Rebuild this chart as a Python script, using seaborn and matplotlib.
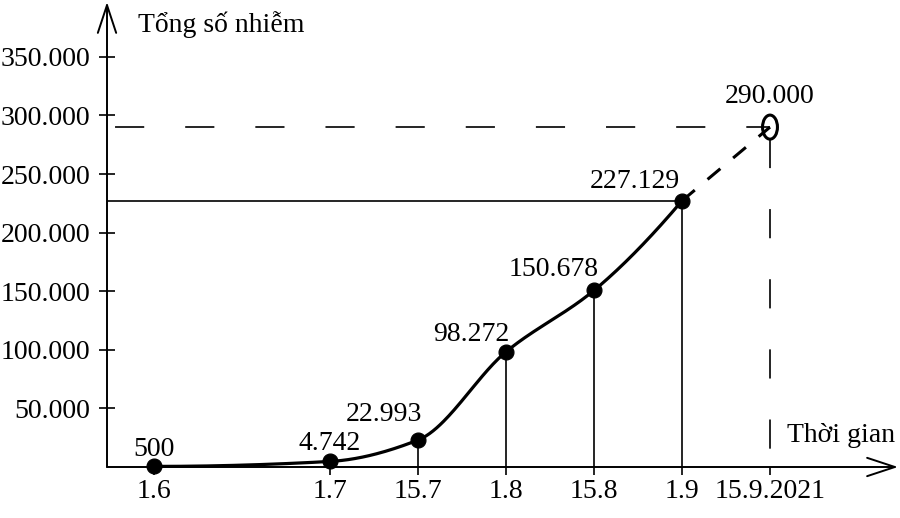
import numpy as np
import pandas as pd
import matplotlib
matplotlib.use('Agg')
import matplotlib.pyplot as plt
import seaborn as sns
from matplotlib.path import Path
from matplotlib.transforms import Affine2D

# data
dates = ['1.6', '1.7', '15.7', '1.8', '15.8', '1.9', '15.9.2021']
pos = [0, 2, 3, 4, 5, 6, 7]   # half-month steps since 1.6
cases = [500, 4742, 22993, 98272, 150678, 227129]
forecast = 290000
yticks = [50000, 100000, 150000, 200000, 250000, 300000, 350000]


def dotfmt(v):
    return '{:,}'.format(v).replace(',', '.')


def pchip(x, y, xs):
    # monotone cubic hermite, so the curve goes smoothly through the points
    x = np.asarray(x, float); y = np.asarray(y, float)
    h = np.diff(x); d = np.diff(y) / h
    m = np.zeros_like(y)
    for k in range(1, len(x) - 1):
        if d[k - 1] * d[k] > 0:
            w1 = 2 * h[k] + h[k - 1]; w2 = h[k] + 2 * h[k - 1]
            m[k] = (w1 + w2) / (w1 / d[k - 1] + w2 / d[k])
    m0 = ((2 * h[0] + h[1]) * d[0] - h[0] * d[1]) / (h[0] + h[1])
    m[0] = m0 if m0 * d[0] > 0 else 0
    mn = ((2 * h[-1] + h[-2]) * d[-1] - h[-1] * d[-2]) / (h[-1] + h[-2])
    m[-1] = mn if mn * d[-1] > 0 else 0
    idx = np.clip(np.searchsorted(x, xs) - 1, 0, len(x) - 2)
    t = (xs - x[idx]) / h[idx]
    h00 = 2 * t**3 - 3 * t**2 + 1; h10 = t**3 - 2 * t**2 + t
    h01 = -2 * t**3 + 3 * t**2; h11 = t**3 - t**2
    return h00 * y[idx] + h10 * h[idx] * m[idx] + h01 * y[idx + 1] + h11 * h[idx] * m[idx + 1]


sns.set_theme(style='white')
plt.rcParams['font.family'] = ['Liberation Serif', 'DejaVu Serif']
plt.rcParams['lines.scale_dashes'] = False
plt.rcParams['text.color'] = 'black'
FS = 20

fig = plt.figure(figsize=(9, 5.18), dpi=100)
ax = fig.add_axes([0, 0, 1, 1])
ax.set_facecolor('white')

# pixel layout -> data limits
px_x = 88.0          # px per half month
x0 = 154.0           # px of 1.6
y0 = 467.0           # px of zero
px_y = 58.6 / 50000  # px per case
ax.set_xlim(-x0 / px_x, (900 - x0) / px_x)
ax.set_ylim(-(518 - y0) / px_y, y0 / px_y)
xa = (107 - x0) / px_x       # where the y axis sits
xtip = (898 - x0) / px_x
ytip = (y0 - 2) / px_y

for s in ax.spines.values():
    s.set_visible(False)
ax.spines['left'].set_position(('data', xa))
ax.spines['bottom'].set_position(('data', 0))

arrow = dict(arrowstyle='->,head_length=1.0,head_width=0.33', mutation_scale=20,
             lw=1.4, color='black', shrinkA=0, shrinkB=0)
ax.annotate('', xy=(xtip, 0), xytext=(xa, 0), arrowprops=arrow)
ax.annotate('', xy=(xa, ytip), xytext=(xa, 0), arrowprops=arrow)

# guide lines
ax.vlines(pos[1:6], 0, cases[1:], color='black', lw=1.2)
ax.hlines(cases[-1], xa, pos[5], color='black', lw=1.2)
ax.plot([xa, pos[6]], [forecast, forecast], color='black', lw=1.2,
        ls=(44.7, (21, 29.5)))
ax.plot([pos[6], pos[6]], [forecast, 0], color='black', lw=1.2,
        ls=(41.9, (21, 29.5)))
ax.plot([pos[5], pos[6]], [cases[-1], forecast], color='black', lw=2.2,
        ls=(0, (12, 12)))

# smooth curve
xs = np.linspace(pos[0], pos[5], 300)
curve = pd.DataFrame({'t': xs, 'v': pchip(pos[:6], cases, xs)})
sns.lineplot(data=curve, x='t', y='v', ax=ax, color='black', lw=2.3)

pts = pd.DataFrame({'t': pos[:6], 'v': cases})
sns.scatterplot(data=pts, x='t', y='v', ax=ax, s=115, color='black',
                edgecolor='black', zorder=5)

ell = Path.unit_circle().transformed(Affine2D().scale(0.62, 1.0))
sns.scatterplot(x=[pos[6]], y=[forecast], ax=ax, marker=ell, s=300,
                facecolor='none', edgecolor='black', linewidth=2.2, zorder=5)

# value labels
offs = [(0, 10, 'center'), (0, 11, 'center'), (4, 19, 'right'), (3, 11, 'right'),
        (5, 14, 'right'), (-2, 13, 'right')]
for (dx, dy, ha), p, v in zip(offs, pos, cases):
    ax.annotate(dotfmt(v), (p, v), xytext=(dx, dy), textcoords='offset pixels',
                ha=ha, va='baseline', fontsize=FS)
ax.annotate(dotfmt(forecast), (pos[6], forecast), xytext=(0, 24),
            textcoords='offset pixels', ha='center', va='baseline', fontsize=FS)

# ticks
ax.set_yticks(yticks, labels=[dotfmt(v) for v in yticks])
ax.set_xticks(pos, labels=dates)
ax.tick_params(axis='y', direction='inout', length=11.5, width=1.2, pad=6,
               labelsize=FS, left=True, colors='black')
ax.tick_params(axis='x', direction='out', length=6, width=1.2, pad=3,
               labelsize=FS, bottom=True, colors='black')
ax.set_xlabel('')
ax.set_ylabel('')
ax.grid(False)

fig.text(138 / 900, 1 - 32 / 518, 'Tổng số nhiễm', fontsize=FS, ha='left', va='baseline')
fig.text(895 / 900, 1 - 442 / 518, 'Thời gian', fontsize=FS, ha='right', va='baseline')

fig.savefig('out.png', dpi=100, facecolor='white')
